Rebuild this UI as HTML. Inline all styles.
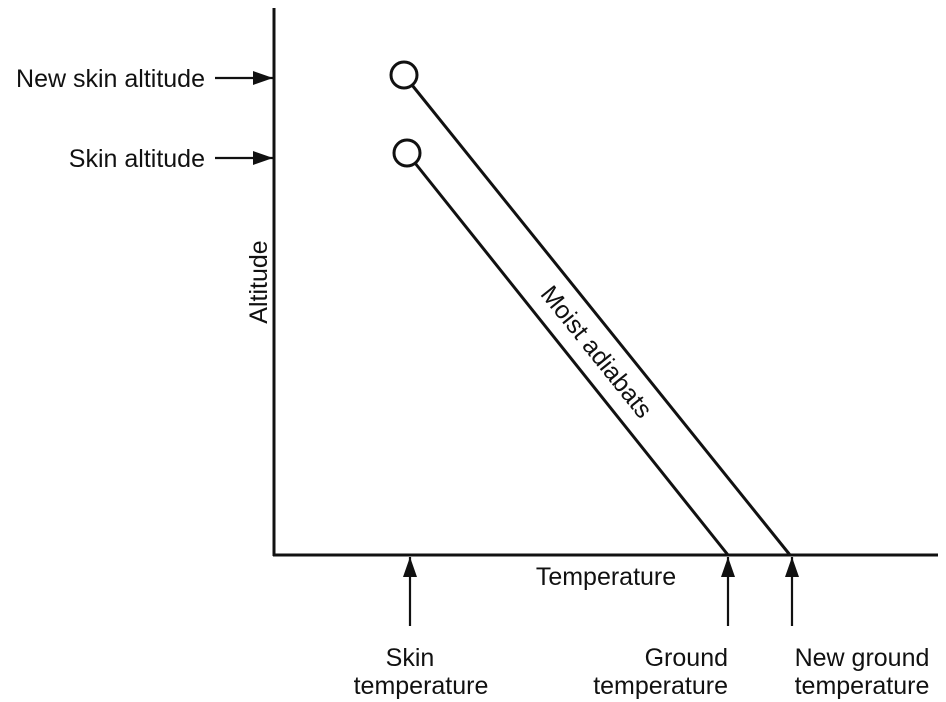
<!DOCTYPE html>
<html><head><meta charset="utf-8"><style>
html,body{margin:0;padding:0;background:#fff;}
svg{display:block;font-family:"Liberation Sans",Arial,sans-serif;}
</style></head><body>
<svg width="946" height="702" viewBox="0 0 946 702">
<defs>
<marker id="a" markerWidth="20" markerHeight="14" refX="20" refY="7" orient="auto" markerUnits="userSpaceOnUse" viewBox="0 0 20 14">
<path d="M0,0 L20,7 L0,14 z" fill="#111"/></marker>
</defs>
<g stroke="#111" stroke-width="3" fill="none">
<line x1="274" y1="8" x2="274" y2="556"/>
<line x1="273" y1="555" x2="938" y2="555"/>
</g>
<g stroke="#111" stroke-width="3" fill="none">
<circle cx="404" cy="75" r="13"/>
<circle cx="407" cy="153" r="13"/>
<line x1="412" y1="85" x2="790" y2="555"/>
<line x1="415" y1="163" x2="728" y2="555"/>
</g>
<g stroke="#111" stroke-width="2.2" fill="none">
<line x1="215" y1="78" x2="273" y2="78" marker-end="url(#a)"/>
<line x1="215" y1="158" x2="273" y2="158" marker-end="url(#a)"/>
<line x1="410" y1="626" x2="410" y2="557" marker-end="url(#a)"/>
<line x1="728" y1="626" x2="728" y2="557" marker-end="url(#a)"/>
<line x1="792" y1="626" x2="792" y2="557" marker-end="url(#a)"/>
</g>
<g fill="#111" font-size="25">
<text x="205" y="87" text-anchor="end">New skin altitude</text>
<text x="205" y="167" text-anchor="end">Skin altitude</text>
<text x="606" y="585" text-anchor="middle">Temperature</text>
<text x="410" y="666" text-anchor="middle">Skin</text>
<text x="421" y="694" text-anchor="middle">temperature</text>
<text x="728" y="666" text-anchor="end">Ground</text>
<text x="728" y="694" text-anchor="end">temperature</text>
<text x="862" y="666" text-anchor="middle">New ground</text>
<text x="862" y="694" text-anchor="middle">temperature</text>
<text x="0" y="0" text-anchor="middle" transform="translate(267,282) rotate(-90)">Altitude</text>
<text x="0" y="0" text-anchor="middle" transform="translate(590,357) rotate(51.2)">Moist adiabats</text>
</g>
</svg>
</body></html>
